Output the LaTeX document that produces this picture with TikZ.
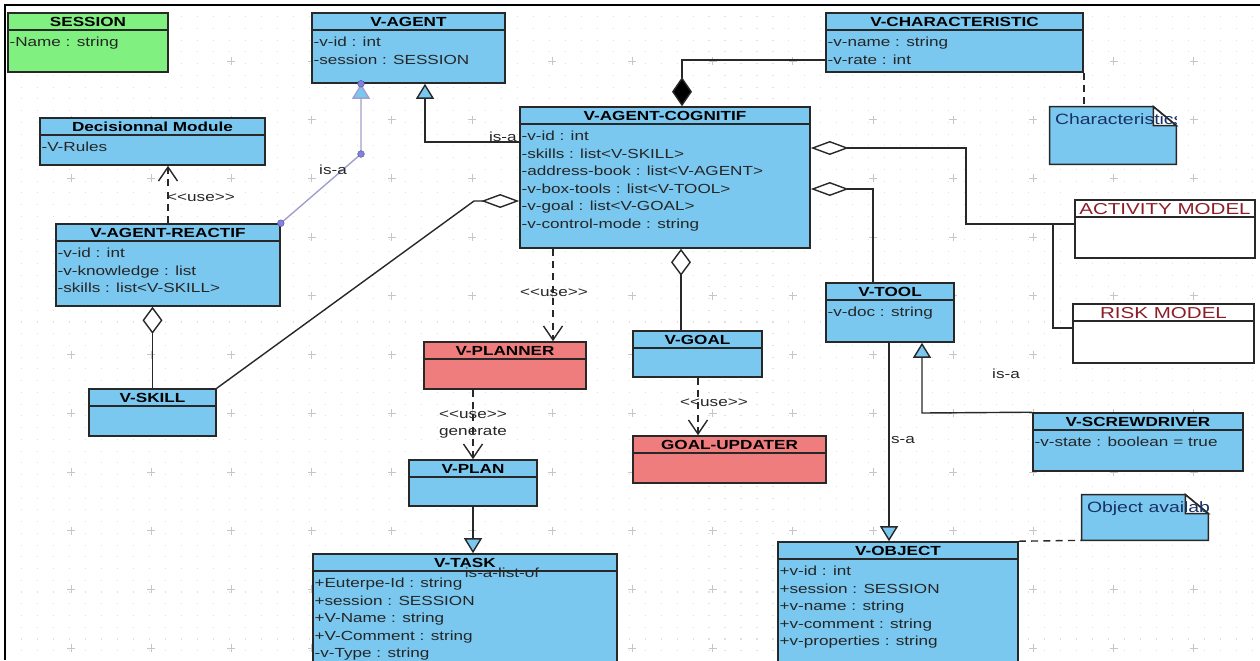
\documentclass[tikz,border=0pt]{standalone}
\usepackage{fontspec}
\setmainfont{Liberation Sans}[FakeStretch=1.3, Ligatures=TeXOff]
\usetikzlibrary{arrows.meta, fit}
\definecolor{vblue}{RGB}{122,200,240}
\definecolor{vgreen}{RGB}{128,240,128}
\definecolor{vred}{RGB}{240,125,125}
\definecolor{vline}{RGB}{40,40,40}
\definecolor{vmodel}{RGB}{140,30,40}
\definecolor{vnote}{RGB}{25,50,100}
\definecolor{vhandle}{RGB}{130,130,225}
\definecolor{visa}{RGB}{160,160,205}

\tikzset{
	classbox/.style={draw=vline, line width=0.9pt, inner sep=0pt},
	classtitle/.style={font=\fontsize{7.5}{9}\selectfont\bfseries, inner sep=0pt},
	classattr/.style={font=\fontsize{7.5}{9}\selectfont, text=black!85, inner sep=0pt},
	conn/.style={draw=vline, line width=0.8pt},
	usedep/.style={conn, dash pattern=on 4pt off 3pt, -{Straight Barb[length=2.8mm, width=3.8mm]}},
	isa/.style={conn, -{Triangle[length=3mm, width=3.6mm, fill=vblue]}},
	aggh/.style={conn, -{Diamond[length=7.6mm, width=2.8mm, fill=white]}},
	aggv/.style={conn, -{Diamond[length=5.4mm, width=4mm, fill=white]}},
	compv/.style={conn, -{Diamond[length=5.8mm, width=4mm, fill=black]}},
	notelink/.style={conn, dash pattern=on 4pt off 3pt},
	notetext/.style={font=\fontsize{8.5}{10}\selectfont, text=vnote, inner sep=0pt},
	lbl/.style={font=\fontsize{7.5}{9}\selectfont, text=black!85, inner sep=0pt},
	handle/.style={fill=vhandle, draw=vhandle!70!black, line width=0.3pt},
	gridplus/.style={draw=gray!45, line width=0.4pt},
	griddot/.style={draw=gray!25, line width=0.6pt, dash pattern=on 0.6pt off 8.5pt},
}

% class box: fill, name, corners, title, attributes
\newcommand{\umlclass}[5][vblue]{%
	\node[classbox, fill=#1, fit={#3}] (#2) {};
	\draw[classbox] ([shift={(0,18)}]#2.north west) -- ([shift={(0,18)}]#2.north east);
	\node[classtitle, anchor=base] (#2-title) at ([shift={(0,13.9)}]#2.north) {#4};
	\foreach \attr [count=\i] in {#5}
		\node[classattr, anchor=base west] (#2-attr\i) at ([shift={(2,16.8+17.5*\i)}]#2.north west) {\attr};
}
\newcommand{\modeltitle}[1]{\raisebox{-0.7pt}{\color{vmodel}\fontsize{9}{11}\selectfont\mdseries #1}}

\begin{document}
\begin{tikzpicture}[x=0.02cm, y=-0.02cm]
	\useasboundingbox (0,0) rectangle (1260,660);
	\clip (0,0) rectangle (1260,660);
	\fill[white] (0,0) rectangle (1260,660);
	% grid
	\foreach \gy in {0,...,55}
		\draw[griddot] (5,5+11.74*\gy) -- (1260,5+11.74*\gy);
	\foreach \gx in {0,...,14}
		\foreach \gy in {0,...,10}
			\draw[gridplus] (71+80.2*\gx,61+58.7*\gy) +(-4,0) -- +(4,0) +(0,-4) -- +(0,4);
	\draw[line width=1.1pt] (5,660) -- (5,5) -- (1260,5);

	% classes
	\umlclass[vgreen]{session}{(8,13) (168,72)}{SESSION}{-Name : string}
	\umlclass{vagent}{(312,13) (505,83)}{V-AGENT}{-v-id : int, -session : SESSION}
	\umlclass{vchar}{(826,13) (1083,72)}{V-CHARACTERISTIC}{-v-name : string, -v-rate : int}
	\umlclass{decm}{(40,118) (265,165)}{Decisionnal Module}{-V-Rules}
	\umlclass{vcog}{(520,107) (810,248)}{V-AGENT-COGNITIF}{-v-id : int, -skills : list<V-SKILL>, -address-book : list<V-AGENT>, -v-box-tools : list<V-TOOL>, -v-goal : list<V-GOAL>, -v-control-mode : string}
	\umlclass{vreact}{(56,224) (280,306)}{V-AGENT-REACTIF}{-v-id : int, -v-knowledge : list, -skills : list<V-SKILL>}
	\umlclass{vskill}{(89,389) (216,436)}{V-SKILL}{}
	\umlclass[vred]{vplanner}{(424,342) (586,389)}{V-PLANNER}{}
	\umlclass{vgoal}{(633,331) (762,377)}{V-GOAL}{}
	\umlclass{vtool}{(826,283) (954,342)}{V-TOOL}{-v-doc : string}
	\umlclass[vred]{gupd}{(633,436) (826,483)}{GOAL-UPDATER}{}
	\umlclass{vplan}{(409,460) (537,506)}{V-PLAN}{}
	\umlclass{vscrew}{(1033,413) (1243,471)}{V-SCREWDRIVER}{-v-state : boolean = true}
	\umlclass{vtask}{(313,554) (617,690)}{V-TASK}{+Euterpe-Id : string, +session : SESSION, +V-Name : string, +V-Comment : string, -v-Type : string}
	\umlclass{vobj}{(778,542) (1018,690)}{V-OBJECT}{+v-id : int, +session : SESSION, +v-name : string, +v-comment : string, +v-properties : string}
	\umlclass[white]{actm}{(1075,200) (1255,258)}{\modeltitle{ACTIVITY MODEL}}{}
	\umlclass[white]{riskm}{(1073,304) (1254,363)}{\modeltitle{RISK MODEL}}{}

	% notes
	\node[inner sep=0pt, fit={(1050,107) (1176,164)}] (notec) {};
	\node[inner sep=0pt, fit={(1082,495) (1208,540)}] (noteo) {};
	\foreach \nt/\ntext in {notec/Characteristics, noteo/Object available} {
		\draw[classbox, fill=vblue] (\nt.south west) -- (\nt.north west) -- ([shift={(-23,0)}]\nt.north east)
			-- ([shift={(0,19)}]\nt.north east) -- (\nt.south east) -- cycle;
		\draw[classbox, fill=white] ([shift={(-23,0)}]\nt.north east) -- ([shift={(-23,19)}]\nt.north east)
			-- ([shift={(0,19)}]\nt.north east) -- cycle;
		\begin{scope}
			\clip (\nt.south west) rectangle (\nt.north east);
			\node[notetext, anchor=base west] (\nt-text) at ([shift={(5,18.2)}]\nt.north west) {\ntext};
		\end{scope}
	}

	% connectors
	\coordinate (useD) at (168,0);
	\draw[usedep] (useD |- vreact.north) -- (useD |- decm.south);
	\coordinate (isaR) at (361,154);
	\draw[isa, draw=visa] (vreact.north east) -- (isaR) -- (isaR |- vagent.south);
	\foreach \hp in {vreact.north east, isaR}
		\filldraw[handle] (\hp) circle (1.9pt);
	\filldraw[handle] (isaR |- vagent.south) circle (1.9pt);
	\coordinate (isaC) at (425,142);
	\draw[isa] (isaC -| vcog.west) -- (isaC) -- (isaC |- vagent.south);
	\coordinate (compC) at (682,60);
	\draw[compv] (compC -| vchar.west) -- (compC) -- (compC |- vcog.north);
	\draw[notelink] (vchar.south east) -- (vchar.south east |- notec.north);
	\coordinate (aggS) at (474,201);
	\draw[aggh] (vskill.north east) -- (aggS) -- (aggS -| vcog.west);
	\draw[aggv] (vskill.north) -- (vskill.north |- vreact.south);
	\coordinate (aggA) at (966,148);
	\coordinate (aggJ) at (1053,224);
	\coordinate (aggR) at (1053,328);
	\draw[aggh] (aggJ -| actm.west) -- (aggA |- aggJ) -- (aggA) -- (aggA -| vcog.east);
	\draw[conn] (aggJ) -- (aggR) -- (aggR -| riskm.west);
	\coordinate (aggT) at (873,189);
	\draw[aggh] (aggT |- vtool.north) -- (aggT) -- (aggT -| vcog.east);
	\coordinate (aggG) at (681,300);
	\draw[aggv] (aggG |- vgoal.north) -- (aggG |- vcog.south);
	\coordinate (useP) at (553,300);
	\draw[usedep] (useP |- vcog.south) -- (useP |- vplanner.north);
	\draw[usedep] (vplan.north |- vplanner.south) -- (vplan.north);
	\draw[isa] (vplan.south) -- (vplan.south |- vtask.north);
	\coordinate (useG) at (698,400);
	\draw[usedep] (useG |- vgoal.south) -- (useG |- gupd.north);
	\coordinate (isaO) at (889,400);
	\draw[isa] (isaO |- vtool.south) -- (isaO |- vobj.north);
	\coordinate (isaT) at (922,413);
	\draw[isa] (vscrew.north west) -- (isaT) -- (isaT |- vtool.south);
	\draw[notelink] (vobj.north east) -- (noteo.south west);

	% labels
	\node[lbl] (lisaR) at (333,170) {is-a};
	\node[lbl, anchor=east] (lisaC) at (517,137) {is-a};
	\node[lbl] (luseD) at (201,198) {<<use>>};
	\node[lbl] (luseP) at (554,293) {<<use>>};
	\node[lbl] (lusePl) at (473,415) {<<use>>};
	\node[lbl] (lgen) at (473,433) {generate};
	\node[lbl] (luseG) at (714,403) {<<use>>};
	\node[lbl] (llist) at (502,573) {is-a-list-of};
	\node[lbl] (lsa) at (903,440) {s-a};
	\node[lbl] (lisaT) at (1006,374) {is-a};
\end{tikzpicture}
\end{document}
